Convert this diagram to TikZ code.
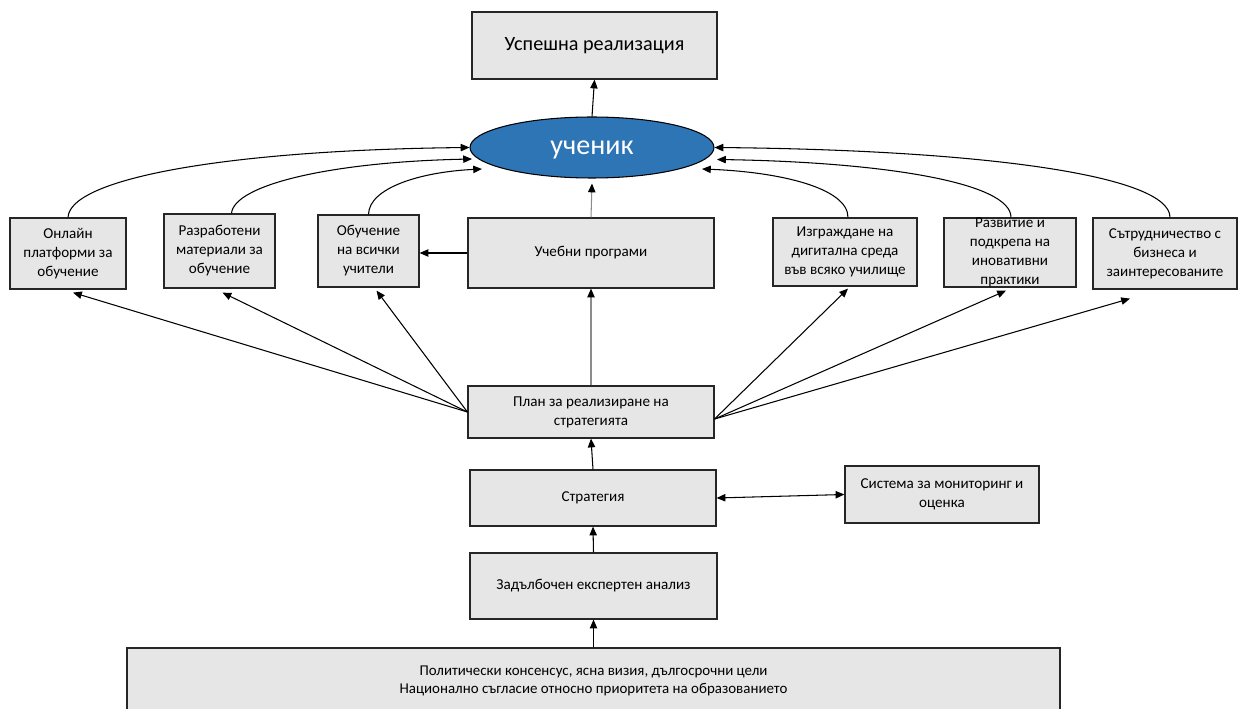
\documentclass[tikz,border=0pt]{standalone}
\usepackage{fontspec}
\setmainfont{Carlito}
\usetikzlibrary{arrows.meta,shapes.geometric,calc}
\definecolor{boxfill}{HTML}{E6E6E6}
\definecolor{ucfill}{HTML}{2E75B6}
\begin{document}
\begin{tikzpicture}[x=0.02cm,y=-0.02cm,
  box/.style={draw=black!85,line width=0.7pt,fill=boxfill,inner sep=0pt,align=center,font=\fontsize{8.6}{10.8}\selectfont},
  conn/.style={line width=0.6pt,-{Triangle[length=5pt,width=4.2pt]}},
  gconn/.style={line width=0.6pt,draw=black!45,-{Triangle[length=5pt,width=4.2pt,black]}},
  biconn/.style={line width=0.6pt,{Triangle[length=5pt,width=4.2pt]}-{Triangle[length=5pt,width=4.2pt]}}]
\useasboundingbox (0,0) rectangle (1238,709);

\node[box,font=\fontsize{11.5}{14}\selectfont,minimum width=4.9cm,minimum height=1.34cm] (top) at (594.5,45.5) {Успешна реализация};
\node[ellipse,draw=black,line width=0.6pt,fill=ucfill,minimum width=4.88cm,minimum height=1.22cm,inner sep=0pt,text=white,text depth=0pt,font=\fontsize{16}{19}\selectfont] (ucen) at (592,147.5) {ученик};

\node[box,minimum width=2.32cm,minimum height=1.42cm] (onl) at (68,253.5) {Онлайн\\платформи за\\обучение};
\node[box,minimum width=2.22cm,minimum height=1.48cm] (raz) at (219.5,251) {Разработени\\материали за\\обучение};
\node[box,minimum width=2.02cm,minimum height=1.44cm] (obu) at (368.5,251) {Обучение\\на всички\\учители};
\node[box,minimum width=4.92cm,minimum height=1.40cm] (ucp) at (591,253) {Учебни програми};
\node[box,minimum width=2.88cm,minimum height=1.36cm] (izg) at (845,252) {Изграждане на\\дигитална среда\\във всяко училище};
\node[box,minimum width=2.64cm,minimum height=1.38cm] (rzv) at (1010,252.5) {Развитие и\\подкрепа на\\иновативни\\практики};
\node[box,minimum width=2.88cm,minimum height=1.42cm] (sat) at (1165,253.5) {Сътрудничество с\\бизнеса и\\заинтересованите};

\node[box,minimum width=4.92cm,minimum height=1.04cm] (plan) at (591,412) {План за реализиране на\\стратегията};
\node[box,minimum width=4.92cm,minimum height=1.12cm] (str) at (593,498) {Стратегия};
\node[box,minimum width=3.88cm,minimum height=1.14cm] (sys) at (942,494.5) {Система за мониторинг и\\оценка};
\node[box,minimum width=4.94cm,minimum height=1.32cm] (zad) at (593.5,586) {Задълбочен експертен анализ};
\node[box,font=\fontsize{8.5}{10.3}\selectfont,minimum width=18.66cm,minimum height=1.32cm] (pol) at (593.5,681) {Политически консенсус, ясна визия, дългосрочни цели\\Национално съгласие относно приоритета на образованието};

% upward chain
\draw[conn] (ucen.north) -- (top.south);
\draw[gconn] (ucp.north) -- ($(ucen.south)+(0,5)$);
\draw[gconn] (plan.north) -- (ucp.south);
\draw[conn] (str.north) -- (plan.south);
\draw[conn] (zad.north) -- (str.south);
\draw[conn] (pol.north) -- (zad.south);
\draw[biconn] (str.east) -- (sys.west);
\draw[conn] (ucp.west) -- (obu.east |- ucp.west);

% plan to the row of boxes
\draw[conn] (plan.west) -- ($(onl.south)+(5,3)$);
\draw[conn] (plan.west) -- ($(raz.south)+(3,4)$);
\draw[conn] (plan.west) -- ($(obu.south)+(8,3)$);
\draw[conn] ($(plan.east)+(0,7)$) -- ($(izg.south)+(3,2)$);
\draw[conn] ($(plan.east)+(0,7)$) -- ($(rzv.south)+(-4,3)$);
\draw[conn] ($(plan.east)+(0,7)$) -- ($(sat.south)+(-35,9)$);

% curves to the student
\draw[conn] (onl.north) .. controls (70,178) and (230,150) .. (ucen.west);
\draw[conn] ($(raz.north)+(12,0)$) .. controls (234,185) and (330,162) .. ($(ucen.center)+(-120,11.5)$);
\draw[conn] (obu.north) .. controls (369,188) and (420,172) .. ($(ucen.center)+(-110,21.5)$);
\draw[conn] ($(izg.north)+(3,0)$) .. controls (848,188) and (780,172) .. ($(ucen.center)+(110,21.5)$);
\draw[conn] ($(rzv.north)+(1,0)$) .. controls (1011,182) and (880,162) .. ($(ucen.center)+(125,12)$);
\draw[conn] ($(sat.north)+(5,0)$) .. controls (1170,175) and (980,150) .. (ucen.east);
\end{tikzpicture}
\end{document}
